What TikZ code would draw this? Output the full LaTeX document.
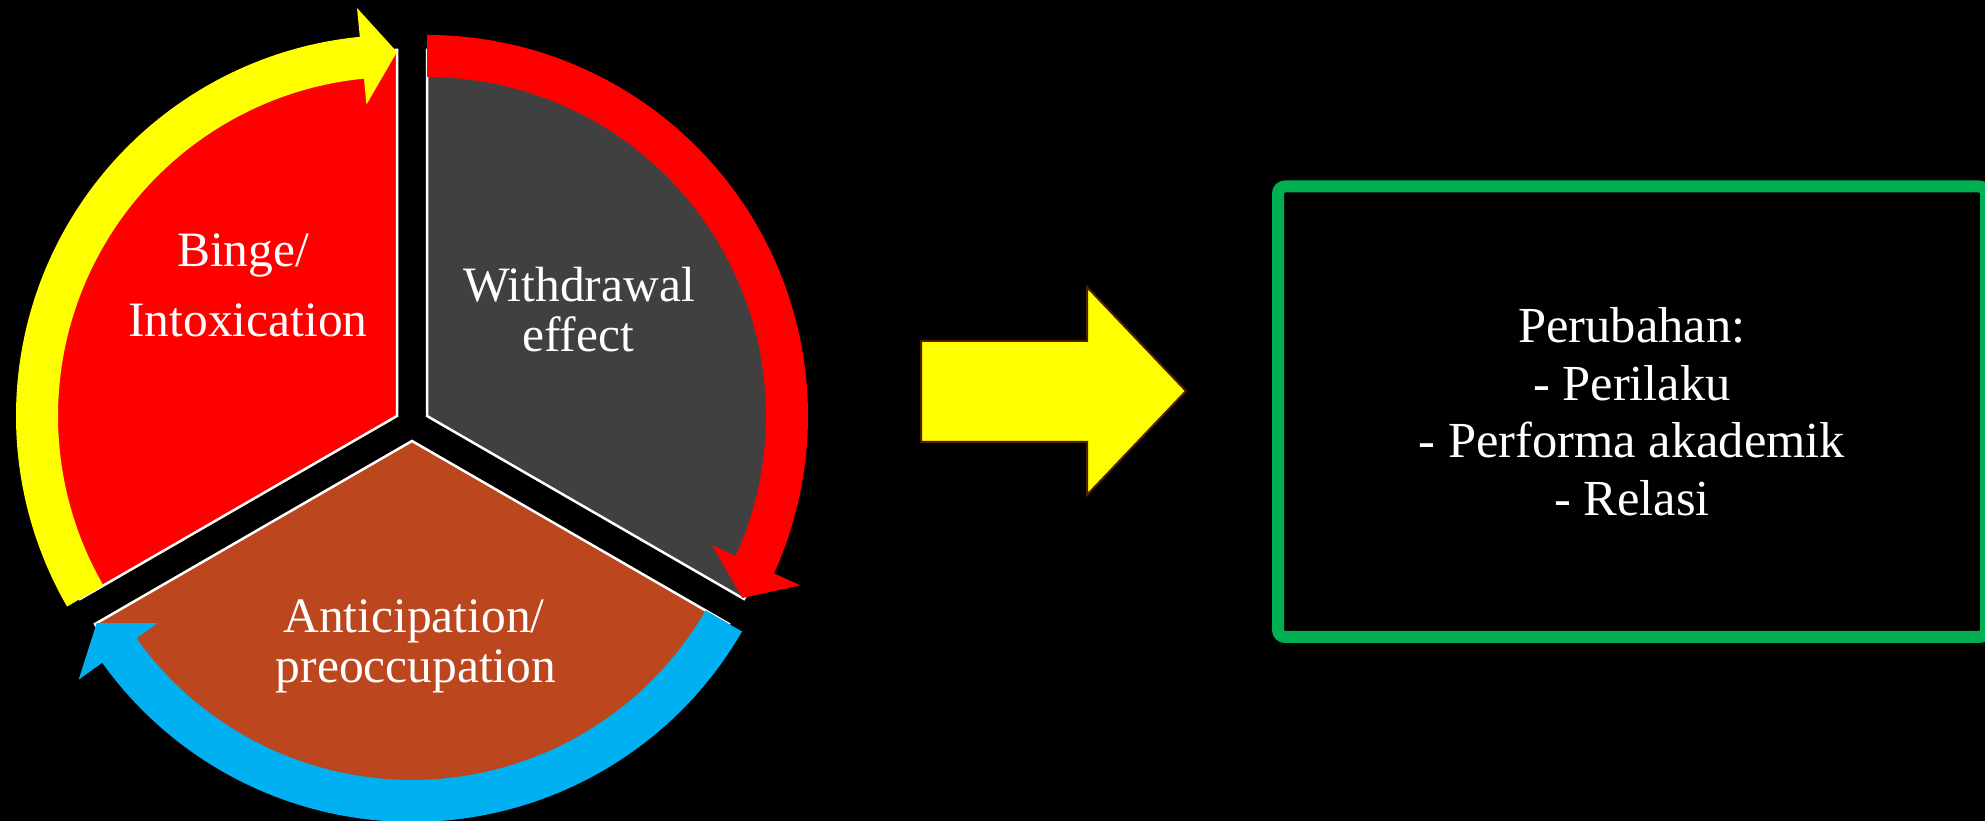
\documentclass[tikz,border=0pt]{standalone}
\usepackage{fontspec}
\setmainfont{Liberation Serif}
\definecolor{segred}{RGB}{255,0,0}
\definecolor{seggray}{RGB}{64,64,64}
\definecolor{segbrown}{RGB}{188,70,30}
\definecolor{arrblue}{RGB}{0,176,240}
\definecolor{arryellow}{RGB}{255,255,0}
\definecolor{boxgreen}{RGB}{0,176,80}
\definecolor{arroutline}{RGB}{80,30,0}
% #1 centre, #2 start angle, #3 head base angle, #4 tip angle, #5 colour
\newcommand{\cyclearrow}[5]{%
  \fill[#5, shift={(#1)}] (#2:381pt) arc[start angle=#2, end angle=#3, radius=381pt]
    -- (#3:410pt) -- (#4:364pt) -- (#3:313pt) -- (#3:339pt)
    arc[start angle=#3, end angle=#2, radius=339pt] -- cycle;}
\begin{document}
\begin{tikzpicture}[x=1pt,y=1pt,
  wedge/.style={draw=white, line width=2.5pt, line join=miter},
  lbl/.style={text=white, font=\fontsize{49.5}{52}\selectfont, anchor=base, inner sep=0pt}]
\fill[black] (0,0) rectangle (1985,821);
\useasboundingbox (0,0) rectangle (1985,821);
\coordinate (R) at (397,405);
\coordinate (G) at (427,405);
\coordinate (B) at (412,380);
% segments
\filldraw[wedge, fill=segred] (R) -- ++(90:366pt) arc[start angle=90, end angle=210, radius=366pt] -- cycle;
\filldraw[wedge, fill=seggray] (G) -- ++(-30:366pt) arc[start angle=-30, end angle=90, radius=366pt] -- cycle;
\filldraw[wedge, fill=segbrown] (B) -- ++(210:366pt) arc[start angle=210, end angle=330, radius=366pt] -- cycle;
% cycle arrows
\cyclearrow{R}{210}{95.6}{90}{arryellow}
\cyclearrow{G}{90}{-24.4}{-30}{segred}
\cyclearrow{B}{330}{215.6}{210}{arrblue}
% labels
\node[lbl] (binge) at (243,554) {Binge/};
\node[lbl] (intox) at (248,484) {Intoxication};
\node[lbl] (withd) at (579,519) {Withdrawal};
\node[lbl] (effect) at (578,469.5) {effect};
\node[lbl] (antic) at (414,188) {Anticipation/};
\node[lbl] (preoc) at (416,138.5) {preoccupation};
% block arrow
\draw[fill=arryellow, draw=arroutline, line width=2pt, line join=miter]
  (921,480) -- (1087,480) -- (1087,534) -- (1186,430) -- (1087,326) -- (1087,379) -- (921,379) -- cycle;
% result box
\node (box) [draw=boxgreen, line width=12pt, rounded corners=7pt,
  minimum width=708pt, minimum height=450.5pt, inner sep=0pt,
  text=white, align=center, font=\fontsize{50.5}{57.4}\selectfont]
  at (1632,409.25) {Perubahan:\\- Perilaku\\- Performa akademik\\- Relasi};
\end{tikzpicture}
\end{document}
